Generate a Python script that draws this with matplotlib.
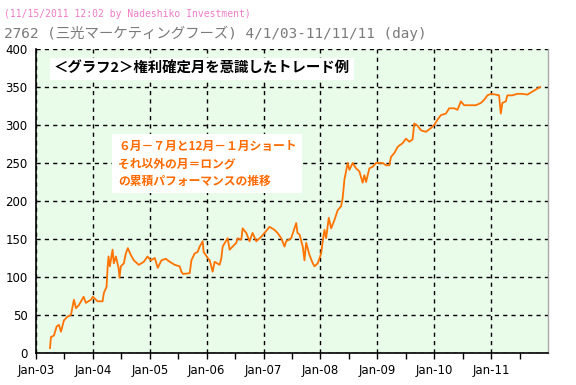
import matplotlib
matplotlib.use("Agg")
import matplotlib.pyplot as plt
from matplotlib.ticker import FixedLocator

# ---- data (decimal year, cumulative performance) ----
years = [2003.246, 2003.263, 2003.316, 2003.363, 2003.404, 2003.439, 2003.491, 2003.556,
         2003.614, 2003.644, 2003.667, 2003.702, 2003.754, 2003.837, 2003.877, 2003.965,
         2004.000, 2004.082, 2004.170, 2004.193, 2004.240, 2004.258, 2004.275, 2004.298,
         2004.346, 2004.368, 2004.404, 2004.451, 2004.468, 2004.491, 2004.544, 2004.579,
         2004.614, 2004.667, 2004.719, 2004.807, 2004.895, 2004.960, 2005.018, 2005.088,
         2005.140, 2005.205, 2005.281, 2005.351, 2005.439, 2005.526, 2005.556, 2005.584,
         2005.702, 2005.732, 2005.789, 2005.842, 2005.877, 2005.930, 2005.947, 2006.018,
         2006.053, 2006.105, 2006.140, 2006.228, 2006.258, 2006.281, 2006.368, 2006.404,
         2006.456, 2006.521, 2006.544, 2006.609, 2006.632, 2006.696, 2006.754, 2006.807,
         2006.872, 2006.960, 2007.018, 2007.105, 2007.193, 2007.246, 2007.311, 2007.368,
         2007.398, 2007.486, 2007.574, 2007.596, 2007.632, 2007.689, 2007.719, 2007.749,
         2007.807, 2007.865, 2007.895, 2007.953, 2008.012, 2008.040, 2008.070, 2008.100,
         2008.146, 2008.188, 2008.246, 2008.304, 2008.363, 2008.391, 2008.421, 2008.479,
         2008.509, 2008.567, 2008.626, 2008.684, 2008.742, 2008.772, 2008.802, 2008.860,
         2008.918, 2008.977, 2009.093, 2009.153, 2009.211, 2009.240, 2009.298, 2009.356,
         2009.386, 2009.444, 2009.504, 2009.561, 2009.619, 2009.649, 2009.707, 2009.767,
         2009.854, 2009.942, 2010.000, 2010.058, 2010.118, 2010.205, 2010.263, 2010.351,
         2010.409, 2010.468, 2010.526, 2010.644, 2010.732, 2010.819, 2010.877, 2010.935,
         2010.995, 2011.082, 2011.140, 2011.170, 2011.198, 2011.258, 2011.286, 2011.374,
         2011.461, 2011.549, 2011.637, 2011.725, 2011.812, 2011.860]
values = [6.5, 21, 23, 35, 37, 28, 43, 48,
          50, 61, 70, 59, 63, 74, 66, 70,
          74, 68, 68, 79, 87, 112, 127, 114,
          136, 118, 127, 112, 99, 114, 118, 131,
          138, 129, 122, 116, 120, 127, 122, 125,
          112, 122, 124, 120, 116, 114, 107, 104,
          105, 122, 131, 133, 140, 147, 133, 125,
          122, 107, 120, 116, 125, 140, 151, 136,
          140, 145, 151, 149, 164, 158, 147, 158,
          147, 153, 158, 166, 162, 158, 151, 140,
          147, 151, 171, 158, 156, 140, 122, 145,
          129, 118, 114, 118, 131, 147, 162, 151,
          178, 164, 175, 188, 193, 204, 228, 250,
          241, 250, 243, 239, 224, 234, 225, 243,
          245, 250, 250, 247, 247, 258, 263, 271,
          273, 276, 282, 278, 281, 302, 299, 293,
          291, 296, 300, 307, 313, 315, 322, 322,
          320, 331, 326, 326, 326, 329, 333, 339,
          341, 340, 339, 315, 329, 331, 339, 339,
          341, 341, 340, 344, 348, 350]

tick_years = [2003, 2004, 2005, 2006, 2007, 2008, 2009, 2010, 2011]
tick_labels = ["Jan-03", "Jan-04", "Jan-05", "Jan-06", "Jan-07",
               "Jan-08", "Jan-09", "Jan-10", "Jan-11"]
minor_years = [2003.5, 2004.5, 2005.5, 2006.5, 2007.5, 2008.5, 2009.5, 2010.5, 2011.5]
y_ticks = [0, 50, 100, 150, 200, 250, 300, 350, 400]

title1 = "(11/15/2011 12:02 by Nadeshiko Investment)"
title2 = "2762 (三光マーケティングフーズ) 4/1/03-11/11/11 (day)"
note1 = "＜グラフ2＞権利確定月を意識したトレード例"
note2 = "６月－７月と12月－１月ショート\nそれ以外の月＝ロング\nの累積パフォーマンスの推移"

plt.rcParams['font.family'] = ['DejaVu Sans', 'Noto Sans CJK JP']

fig = plt.figure(figsize=(5.76, 3.85), dpi=100)
ax = fig.add_axes([36/576, 1 - 353/385, (548 - 36)/576, (353 - 49)/385])
ax.set_facecolor('#e9fbe9')

ax.plot(years, values, color='#ff7300', linewidth=1.3, zorder=3)

ax.set_xlim(2003, 2012)
ax.set_ylim(0, 400)
ax.xaxis.set_major_locator(FixedLocator(tick_years))
ax.xaxis.set_minor_locator(FixedLocator(minor_years))
ax.set_xticklabels(tick_labels)
ax.set_yticks(y_ticks)
ax.tick_params(axis='x', which='both', direction='out', length=4, width=1,
               labelsize=8.5, pad=4, colors='black')
ax.tick_params(axis='y', length=0, labelsize=8.5, pad=6)
ax.grid(True, which='major', color='black', linestyle=(0, (3, 3)), linewidth=1, zorder=1)

for s in ['left', 'bottom']:
    ax.spines[s].set_color('black')
    ax.spines[s].set_linewidth(1.2)
ax.spines['top'].set_visible(False)
ax.spines['right'].set_color('#aaaaaa')
ax.spines['right'].set_linewidth(1)

fig.text(4/576, 1 - 14/385, title1, color='#f07cc8', fontsize=7,
         va='center', ha='left', family=['DejaVu Sans Mono', 'Noto Sans CJK JP'])
fig.text(4/576, 1 - 33/385, title2, color='#7a7a7a', fontsize=10.4,
         va='center', ha='left', family=['DejaVu Sans Mono', 'Noto Sans CJK JP'])

ax.text(0.035, 0.935, note1, transform=ax.transAxes, fontsize=10.4, fontweight='bold',
        color='black', va='center', ha='left', family=['Noto Sans CJK JP'],
        bbox=dict(facecolor='white', edgecolor='none', pad=3), zorder=5)
ax.text(0.16, 0.622, note2, transform=ax.transAxes, fontsize=8.5, fontweight='bold',
        color='#ff6a00', va='center', ha='left', linespacing=1.45,
        family=['Noto Sans CJK JP'],
        bbox=dict(facecolor='white', edgecolor='none', pad=4), zorder=5)

fig.savefig('out.png', dpi=100)
